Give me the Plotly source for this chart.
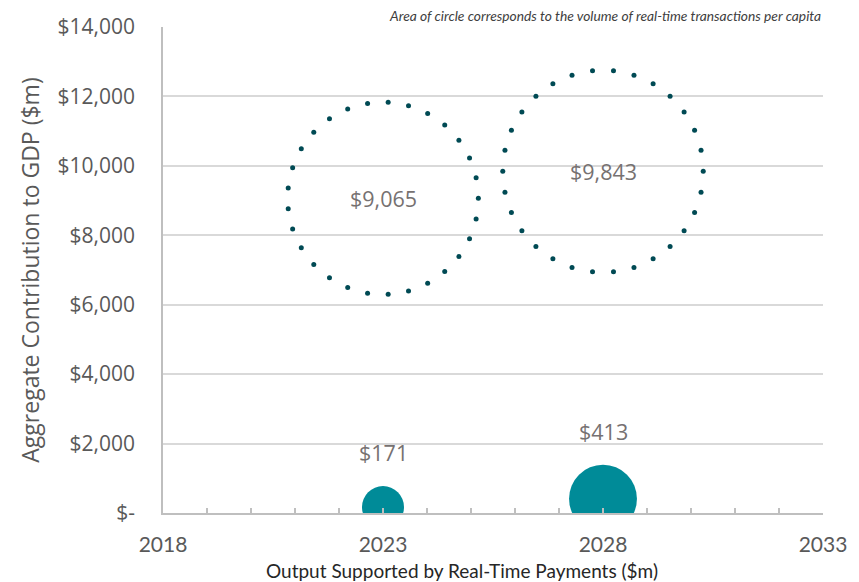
import math
import plotly.graph_objects as go

# Years shown on the horizontal axis
years = [2023, 2028]

# Aggregate contribution to GDP ($m) – drawn as dotted rings
gdp_contribution = [9065, 9843]
# Output supported by real-time payments ($m) – drawn as solid bubbles
output_supported = [171, 413]

# Real-time transactions per capita (bubble area)
txn_per_capita_gdp = [380, 420]
txn_per_capita_output = [18, 47]

x_ticks = [2018, 2023, 2028, 2033]
y_ticks = [0, 2000, 4000, 6000, 8000, 10000, 12000, 14000]
y_tick_text = ["$-", "$2,000", "$4,000", "$6,000", "$8,000", "$10,000", "$12,000", "$14,000"]

X_RANGE = [2018, 2033]
Y_RANGE = [0, 14000]

WIDTH, HEIGHT = 859, 582
MARGIN = dict(l=163, r=28, t=25, b=69)

BUBBLE = "#008B98"
RING = "#004A54"
LABEL = "#767171"
AXIS_TXT = "#595959"
SIZEREF = 0.0204
DOT_SPACING = 21  # px between ring dots


def diameter(v):
    # same scaling rule plotly uses for sizemode="area"
    return math.sqrt(2 * v / SIZEREF)


# data units per pixel, so rings stay circular on screen
plot_w = WIDTH - MARGIN["l"] - MARGIN["r"]
plot_h = HEIGHT - MARGIN["t"] - MARGIN["b"]
x_per_px = (X_RANGE[1] - X_RANGE[0]) / plot_w
y_per_px = (Y_RANGE[1] - Y_RANGE[0]) / plot_h

fig = go.Figure()

# dotted rings sized by transaction volume
for yr, val, vol in zip(years, gdp_contribution, txn_per_capita_gdp):
    r = diameter(vol) / 2
    n = round(2 * math.pi * r / DOT_SPACING)
    angles = [2 * math.pi * k / n for k in range(n)]
    fig.add_trace(go.Scatter(
        x=[yr + r * math.cos(a) * x_per_px for a in angles],
        y=[val + r * math.sin(a) * y_per_px for a in angles],
        mode="markers", marker=dict(size=5, color=RING, line=dict(width=0)),
        hoverinfo="skip", showlegend=False, cliponaxis=False,
    ))
    fig.add_annotation(x=yr, y=val, text=f"${val:,}", showarrow=False,
                       font=dict(family="Open Sans", size=21.5, color=LABEL))

fig.add_trace(go.Scatter(
    x=years, y=output_supported, mode="markers",
    marker=dict(size=txn_per_capita_output, sizemode="area", sizeref=SIZEREF,
                color=BUBBLE, opacity=1, line=dict(width=0)),
    hoverinfo="skip", showlegend=False,
))

for yr, val, vol in zip(years, output_supported, txn_per_capita_output):
    r = diameter(vol) / 2
    fig.add_annotation(x=yr, y=val, text=f"${val:,}", showarrow=False,
                       yanchor="bottom", yshift=r + 17,
                       font=dict(family="Open Sans", size=21.5, color=LABEL))

fig.add_annotation(xref="paper", yref="paper", x=1, y=1, xanchor="right",
                   yanchor="bottom", yshift=1,
                   text="<i>Area of circle corresponds to the volume of real-time transactions per capita</i>",
                   showarrow=False,
                   font=dict(family="Lato", size=13.8, color="#404040"))

# horizontal axis title, set slightly left of the plot centre
fig.add_annotation(xref="paper", yref="paper", x=0.4536, y=-0.119,
                   xanchor="center", yanchor="middle", showarrow=False,
                   text="Output Supported by Real-Time Payments ($m)",
                   font=dict(family="Lato", size=19, color="#262626"))

fig.update_layout(
    width=WIDTH, height=HEIGHT,
    margin=MARGIN,
    plot_bgcolor="white", paper_bgcolor="white",
    xaxis=dict(
        range=X_RANGE, tickvals=x_ticks, showgrid=False, zeroline=False,
        showline=True, linecolor="#BFBFBF", linewidth=1.5,
        ticks="inside", ticklen=5, tickcolor="#BFBFBF", tickwidth=1.5,
        minor=dict(dtick=1, ticks="inside", ticklen=5, tickcolor="#BFBFBF", tickwidth=1.5),
        tickfont=dict(family="Lato", size=21, color=AXIS_TXT),
        ticklabelstandoff=12,
    ),
    yaxis=dict(
        range=Y_RANGE, tickvals=y_ticks, ticktext=y_tick_text,
        showgrid=True, gridcolor="#D9D9D9", gridwidth=1.5, zeroline=False,
        showline=True, linecolor="#BFBFBF", linewidth=1.5,
        tickfont=dict(family="Open Sans", size=21, color=AXIS_TXT),
        ticklabelstandoff=22,
        title=dict(text="Aggregate Contribution to GDP ($m)", standoff=12,
                   font=dict(family="Open Sans", size=23, color=AXIS_TXT)),
    ),
)

fig.write_html("out.html")
